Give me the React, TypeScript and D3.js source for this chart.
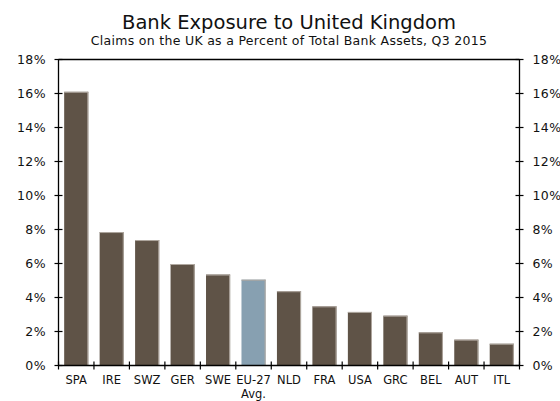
import React from "react";
import * as d3 from "d3";

const categories = ["SPA", "IRE", "SWZ", "GER", "SWE", "EU-27\nAvg.", "NLD", "FRA", "USA", "GRC", "BEL", "AUT", "ITL"];
const values = [16.1, 7.85, 7.38, 5.97, 5.35, 5.05, 4.37, 3.48, 3.15, 2.93, 1.95, 1.52, 1.28];
const highlight = ["EU-27\nAvg."];
const yTicks = [0, 2, 4, 6, 8, 10, 12, 14, 16, 18];
const title = "Bank Exposure to United Kingdom";
const subtitle = "Claims on the UK as a Percent of Total Bank Assets, Q3 2015";

const W = 560, H = 401;
const M = { left: 58.5, right: 519.5, top: 59.5, bottom: 365.5 };
const FONT = "'DejaVu Sans', Verdana, sans-serif";

export default function App() {
  const x = d3.scaleBand<string>().domain(categories).range([M.left, M.right]).paddingInner(0.32).paddingOuter(0.16);
  const y = d3.scaleLinear().domain([0, 18]).range([M.bottom, M.top]);
  const step = x.step();
  const boundaries = d3.range(categories.length + 1).map((i) => M.left + i * step);
  const cx = (M.left + M.right) / 2;
  return (
    <svg width={W} height={H} style={{ position: "absolute", left: 0, top: 0, background: "#fff" }} fontFamily={FONT}>
      <text x={cx} y={29} textAnchor="middle" fontSize={19.5} fill="#111">{title}</text>
      <text x={cx} y={45} textAnchor="middle" fontSize={12.5} letterSpacing={0.3} fill="#111">{subtitle}</text>
      {categories.map((c, i) => {
        const x0 = x(c)!;
        const bw = x.bandwidth();
        const y0 = y(values[i]);
        const fill = highlight.includes(c) ? "#87a0b1" : "#5f5347";
        return (
          <g key={c}>
            <rect x={x0} y={y0} width={bw} height={y(0) - y0} fill={fill} />
            <line x1={x0} x2={x0 + bw} y1={y0 + 0.5} y2={y0 + 0.5} stroke="#b0a8a0" strokeWidth={1} />
            <line x1={x0 + bw - 0.5} x2={x0 + bw - 0.5} y1={y0} y2={y(0)} stroke="#b0a8a0" strokeWidth={1} />
          </g>
        );
      })}
      <line x1={M.left} x2={M.right} y1={M.top} y2={M.top} stroke="#000" strokeWidth={1.3} />
      <line x1={M.left} x2={M.right} y1={M.bottom} y2={M.bottom} stroke="#000" strokeWidth={1.3} />
      <line x1={M.left} x2={M.left} y1={M.top} y2={M.bottom} stroke="#000" strokeWidth={1.3} />
      <line x1={M.right} x2={M.right} y1={M.top} y2={M.bottom} stroke="#000" strokeWidth={1.3} />
      {yTicks.map((t) => (
        <g key={t}>
          <line x1={M.left - 4} x2={M.left + 4} y1={y(t)} y2={y(t)} stroke="#000" strokeWidth={1.2} />
          <line x1={M.right - 4} x2={M.right + 4} y1={y(t)} y2={y(t)} stroke="#000" strokeWidth={1.2} />
          <text x={M.left - 12.5} y={y(t) + 4.5} textAnchor="end" fontSize={12.5} letterSpacing={0.4} fill="#111">{t}%</text>
          <text x={M.right + 13} y={y(t) + 4.5} textAnchor="start" fontSize={12.5} letterSpacing={0.4} fill="#111">{t}%</text>
        </g>
      ))}
      {boundaries.map((b, i) => (
        <line key={i} x1={b} x2={b} y1={M.bottom - 4} y2={M.bottom + 4} stroke="#000" strokeWidth={1.2} />
      ))}
      {categories.map((c) => (
        <text key={c} x={x(c)! + x.bandwidth() / 2} y={384} textAnchor="middle" fontSize={11.5} fill="#111">
          {c.split("\n").map((line, j) => (
            <tspan key={j} x={x(c)! + x.bandwidth() / 2} dy={j === 0 ? 0 : 14}>{line}</tspan>
          ))}
        </text>
      ))}
    </svg>
  );
}
